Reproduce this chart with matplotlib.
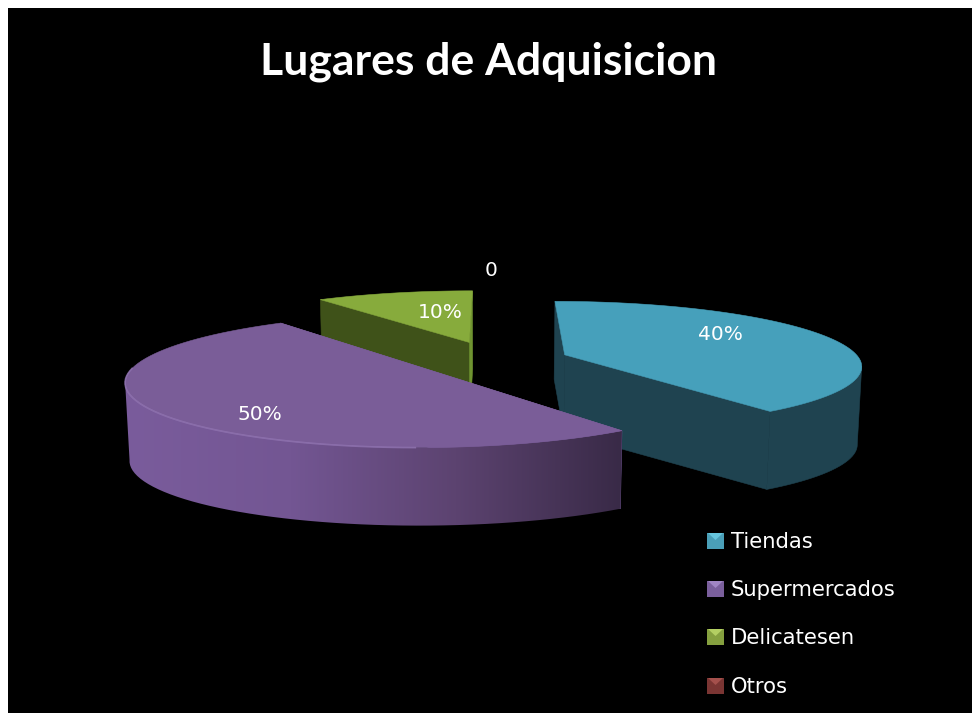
import numpy as np
import matplotlib
matplotlib.use('Agg')
import matplotlib.pyplot as plt
from matplotlib.patches import Polygon
from matplotlib.colors import LinearSegmentedColormap

categories = ['Tiendas', 'Supermercados', 'Delicatesen', 'Otros']
values = [40, 50, 10, 0]
value_labels = ['40%', '50%', '10%', '0']
label_xy = [(720, 334), (260, 414), (440, 313), (491, 271)]

top_colors = ['#46a0bb', '#7a5d98', '#87ab3c', '#8c3f3c']
side_colors = ['#1f4350', '#76599a', '#3f5219', '#4a2220']
thin_face_colors = ['#1f4350', '#76599a', '#6f9430', '#4a2220']
swatch_body = ['#4a9fb8', '#7a5f9c', '#85a03f', '#7a3533']
swatch_top = ['#66c6de', '#a085c4', '#b3cf62', '#a4504c']

# projection of the tilted pie, pixel coordinates
CX, CY = 487, 359
RX, RY, K = 300, 64, 0.154
DEPTH = 78
EXPLODE = 0.265
wedge_scale = [0.985, 0.975, 1.0, 1.0]
wedge_shift = [(3, 1), (9, 1), (6, -1), (0, 0)]


def project(u, v, down=0.0, shift=(0, 0)):
    s = 1 / (1 - K * v)
    x = CX + RX * u * s * (1 - 0.012 * down / DEPTH)
    return x + shift[0], CY + RY * v * s + down + shift[1]


def wedge_points(start, end, scale, n=80):
    ang = np.radians(np.linspace(start, end, n))
    mid = np.radians((start + end) / 2)
    ox, oy = EXPLODE * np.sin(mid), -EXPLODE * np.cos(mid)
    return (ox, oy), ox + scale * np.sin(ang), oy - scale * np.cos(ang)


def quad(ax, p1, p2, color, z, shift):
    x1, y1 = project(*p1, shift=shift)
    x2, y2 = project(*p2, shift=shift)
    x3, y3 = project(*p2, DEPTH, shift)
    x4, y4 = project(*p1, DEPTH, shift)
    ax.add_patch(Polygon([(x1, y1), (x2, y2), (x3, y3), (x4, y4)], closed=True,
                         facecolor=color, edgecolor=color, lw=0.4, zorder=z))


fig = plt.figure(figsize=(9.72, 7.13), dpi=100, facecolor='white')
ax = fig.add_axes([0, 0, 1, 1])
ax.axis('off')
ax.add_patch(plt.Rectangle((8, 8), 964, 705, facecolor='black', edgecolor='none', zorder=0))

plt.rcParams['font.family'] = ['DejaVu Sans']

rim_cmap = LinearSegmentedColormap.from_list(
    'rim', ['#7a5c9c', '#735693', '#5c4370', '#392a47'])

angles = np.cumsum([0] + values) * 3.6
draw_order = [2, 0, 1]
for k, i in enumerate(draw_order):
    start, end = angles[i], angles[i + 1]
    apex, us, vs = wedge_points(start, end, wedge_scale[i])
    shift = wedge_shift[i]
    base = 10 + k * 5
    # straight inner faces
    quad(ax, apex, (us[0], vs[0]), side_colors[i], base, shift)
    quad(ax, apex, (us[-1], vs[-1]), thin_face_colors[i], base + 1, shift)
    # outer rim, only the part that faces the viewer
    xa, ya = project(us, vs, shift=shift)
    xb, yb = project(us, vs, DEPTH, shift)
    if i == 0:
        front = np.arange(np.argmax(xa), len(xa))
    elif i == 1:
        front = np.arange(0, np.argmin(xa) + 1)
    else:
        front = np.array([], dtype=int)
    if len(front) > 1:
        rim = np.r_[np.c_[xa[front], ya[front]], np.c_[xb[front], yb[front]][::-1]]
        if i == 1:
            clip = Polygon(rim, closed=True, facecolor='none', edgecolor='none', transform=ax.transData)
            ax.add_patch(clip)
            grad = ax.imshow(np.linspace(0, 1, 256)[None, :], cmap=rim_cmap, aspect='auto',
                             extent=(rim[:, 0].min(), rim[:, 0].max(), rim[:, 1].max(), rim[:, 1].min()),
                             zorder=base + 2)
            grad.set_clip_path(clip)
        else:
            ax.add_patch(Polygon(rim, closed=True, facecolor=side_colors[i], edgecolor=side_colors[i],
                                 lw=0.4, zorder=base + 2))
    # top surface
    xt, yt = project(np.r_[apex[0], us], np.r_[apex[1], vs], shift=shift)
    ax.add_patch(Polygon(np.c_[xt, yt], closed=True, facecolor=top_colors[i],
                         edgecolor=top_colors[i], lw=0.4, zorder=base + 3))
    if i == 1:
        ax.plot(xt[17:58], yt[17:58], color='#9679b8', lw=1.2, alpha=0.7, zorder=base + 4)

ax.set_xlim(0, 972)
ax.set_ylim(713, 0)

for txt, (x, y) in zip(value_labels, label_xy):
    ax.text(x, y, txt, color='white', fontsize=14.5, ha='center', va='center', zorder=40)

ax.text(488, 62, 'Lugares de Adquisicion', color='white', fontsize=32, fontweight='bold',
        family=['Lato', 'DejaVu Sans'], ha='center', va='center', zorder=40)

# legend, bevelled swatches like the office chart
legend_y = [541, 589, 637, 686]
for name, body, top, y in zip(categories, swatch_body, swatch_top, legend_y):
    x0, x1, y0, y1 = 707, 724, y - 8, y + 8
    xm, ym = (x0 + x1) / 2, y0 + 7
    ax.add_patch(Polygon([(x0, y0), (x1, y0), (x1, y1), (x0, y1)], closed=True,
                         facecolor=body, edgecolor='none', zorder=40))
    ax.add_patch(Polygon([(x0 + 1, y0), (x1 - 1, y0), (xm, ym)], closed=True,
                         facecolor=top, edgecolor='none', zorder=41))
    ax.text(731, y + 1, name, color='white', fontsize=15.2, ha='left', va='center', zorder=40)

fig.savefig('out.png', dpi=100, facecolor='white')
